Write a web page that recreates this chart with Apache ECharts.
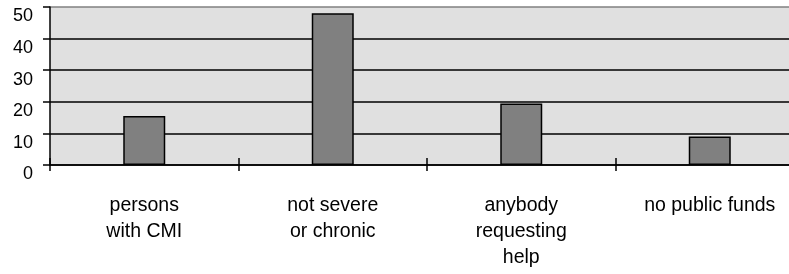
<!DOCTYPE html>
<html>
<head>
<meta charset="utf-8">
<script src="https://cdn.jsdelivr.net/npm/echarts@6/dist/echarts.min.js"></script>
<style>
html,body{margin:0;padding:0;background:#fff;}
#chart{width:789px;height:274px;}
</style>
</head>
<body>
<div id="chart"></div>
<script>
var categories = ['persons\nwith CMI', 'not severe\nor chronic', 'anybody\nrequesting\nhelp', 'no public funds'];
var values = [15.5, 48, 19.5, 9];
var yTicks = [0, 10, 20, 30, 40, 50];

var chart = echarts.init(document.getElementById('chart'), null, {renderer: 'canvas'});
var font = "'Liberation Sans', Arial, Helvetica, sans-serif";
chart.setOption({
  animation: false,
  grid: {
    left: 50, width: 754, top: 7, bottom: 109,
    outerBoundsMode: 'none', containLabel: false,
    show: true, backgroundColor: '#e0e0e0', borderWidth: 0
  },
  xAxis: [{
    type: 'category',
    data: categories,
    position: 'bottom',
    axisLine: {show: true, lineStyle: {color: '#000', width: 1.5}},
    axisTick: {show: true, inside: true, length: 7, lineStyle: {color: '#000', width: 1.5}},
    axisLabel: {
      margin: 28, color: '#000', fontSize: 19.5, fontFamily: font,
      lineHeight: 26, interval: 0
    },
    splitLine: {show: false}
  }, {
    type: 'category',
    data: categories,
    position: 'bottom',
    axisLine: {show: false},
    axisTick: {show: true, inside: false, length: 6, lineStyle: {color: '#000', width: 1.5}},
    axisLabel: {show: false},
    splitLine: {show: false}
  }],
  yAxis: {
    type: 'value',
    min: yTicks[0],
    max: yTicks[yTicks.length - 1],
    interval: 10,
    axisLine: {show: true, lineStyle: {color: '#000', width: 1.5}},
    axisTick: {show: true, length: 7, lineStyle: {color: '#000', width: 1.5}},
    axisLabel: {
      margin: 17, color: '#000', fontSize: 18, fontFamily: font,
      verticalAlign: 'top', lineHeight: 19
    },
    splitLine: {show: true, lineStyle: {color: ['#000', '#000', '#000', '#000', '#000', '#808080'], width: 1.5}}
  },
  series: [{
    type: 'bar',
    data: values,
    xAxisIndex: 0,
    barWidth: 42,
    itemStyle: {color: '#808080', borderColor: '#000', borderWidth: 1.5}
  }]
});
</script>
</body>
</html>
